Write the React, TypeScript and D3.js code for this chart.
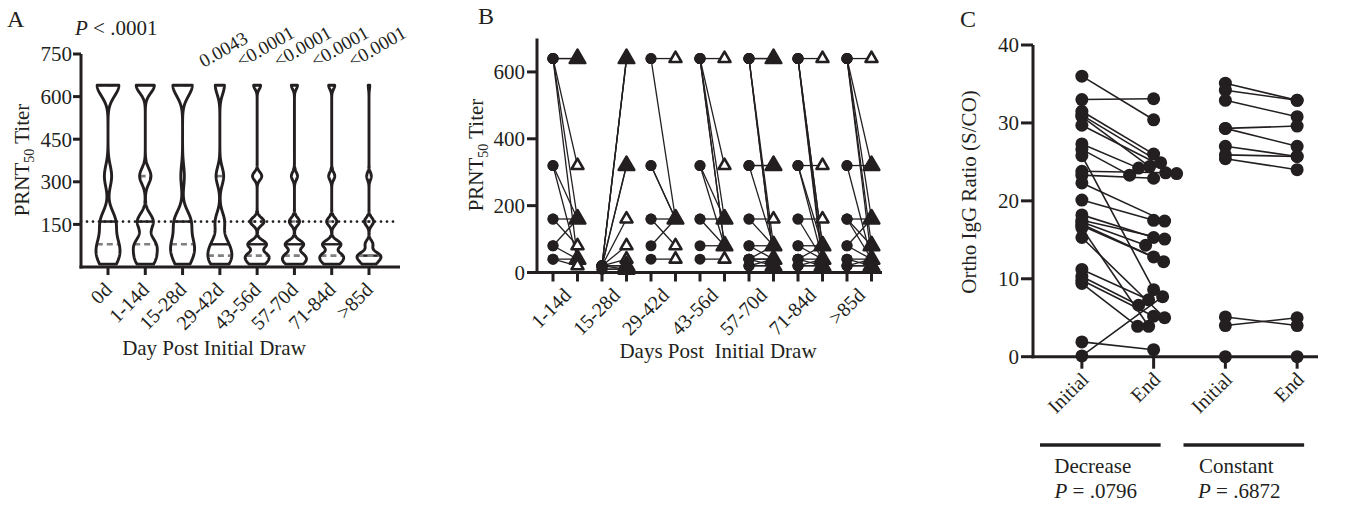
import React from 'react';
import * as d3 from 'd3';

const FONT = "'Liberation Serif', 'Times New Roman', serif";
const INK = '#231f20';
const GREY = '#808080';

// ---- panel A: PRNT50 titer per time window (counts of subjects per titer level)
const titerLevels = [10, 20, 40, 80, 160, 320, 640];
const violinGroups = ['0d', '1-14d', '15-28d', '29-42d', '43-56d', '57-70d', '71-84d', '>85d'];
const violinCounts = [
  [2, 3, 4, 8, 8, 4, 12],
  [2, 3, 4, 8, 7, 5, 8],
  [2, 2, 4, 9, 9, 2, 11],
  [3, 4, 7, 8, 6, 5, 6],
  [3, 4, 8, 8, 6, 4, 3],
  [3, 6, 8, 9, 5, 3, 3],
  [3, 5, 9, 9, 5, 3, 3],
  [4, 5, 13, 5, 6, 3, 1],
];
const violinPValues = ['', '', '', '0.0043', '<0.0001', '<0.0001', '<0.0001', '<0.0001'];
const yTicksA = [150, 300, 450, 600, 750];
const thresholdTiter = 160;
const smoothing = 0.35;

// ---- panel B: paired titers [initial, end]
const pairGroups = ['1-14d', '15-28d', '29-42d', '43-56d', '57-70d', '71-84d', '>85d'];
const pairs1to14 = [[640, 640], [640, 640], [640, 320], [640, 160], [640, 40], [320, 160], [320, 40], [160, 160], [160, 80], [80, 160], [80, 40], [40, 40], [40, 20]];
const pairs15to28 = [[20, 640], [20, 640], [20, 640], [20, 320], [20, 320], [20, 160], [20, 80], [20, 40], [20, 20], [20, 20], [10, 10], [10, 10], [20, 10]];
const pairs29to42 = [[640, 640], [640, 160], [320, 160], [320, 160], [160, 160], [160, 80], [80, 160], [40, 40]];
const pairs43to56 = [[640, 640], [640, 320], [640, 160], [640, 80], [640, 80], [320, 160], [320, 80], [160, 160], [160, 80], [80, 80], [40, 40]];
const pairs57to70 = [[640, 640], [640, 640], [640, 80], [640, 40], [640, 40], [320, 320], [320, 320], [320, 80], [160, 160], [160, 80], [80, 40], [80, 80], [40, 80], [40, 40], [40, 20], [20, 40], [20, 20], [20, 20], [40, 40]];
const pairs71to84 = [[640, 640], [640, 80], [640, 80], [640, 40], [640, 20], [320, 320], [320, 80], [320, 40], [160, 160], [160, 40], [80, 80], [80, 40], [40, 80], [40, 40], [40, 20], [20, 20], [20, 40], [20, 20]];
const pairsOver85 = [[640, 640], [640, 320], [640, 160], [640, 80], [640, 40], [320, 320], [320, 40], [160, 160], [160, 80], [160, 40], [80, 160], [80, 40], [40, 40], [40, 20], [20, 20], [20, 40], [20, 20]];
const pairSets = [pairs1to14, pairs15to28, pairs29to42, pairs43to56, pairs57to70, pairs71to84, pairsOver85];
const yTicksB = [0, 200, 400, 600];

// ---- panel C: Ortho IgG ratio, initial vs end
const ratioGroups = ['Decrease', 'Constant'];
const ratioPValues = ['.0796', '.6872'];
const timepoints = ['Initial', 'End'];
const decreaseInitial = [36.0, 33.0, 31.5, 31.0, 30.8, 29.7, 27.3, 26.6, 25.8, 23.8, 23.3, 22.3, 20.1, 18.2, 17.5, 17.3, 17.0, 16.8, 16.5, 15.3, 11.2, 10.3, 9.8, 9.4, 1.9, 0.1];
const decreaseEnd = [30.4, 33.1, 26.0, 24.9, 24.4, 23.5, 24.2, 23.3, 8.6, 23.6, 22.9, 17.4, 17.5, 15.3, 15.1, 14.3, 12.8, 12.2, 3.9, 5.0, 7.3, 6.6, 5.2, 3.9, 0.9, 7.7];
const constantInitial = [35.1, 34.2, 32.9, 29.3, 29.3, 27.0, 25.9, 25.4, 5.1, 4.0, 0];
const constantEnd = [32.9, 32.9, 30.8, 29.6, 27.0, 25.7, 25.7, 24.0, 4.0, 5.0, 0];
const ratioInitial = [decreaseInitial, constantInitial];
const ratioEnd = [decreaseEnd, constantEnd];
const spreadGroups = ['Decrease'];
const yTicksC = [0, 10, 20, 30, 40];

function violinStats(counts: number[]) {
  const values = titerLevels.flatMap((t, i) => d3.range(counts[i]).map(() => t)).sort(d3.ascending);
  const q1 = d3.quantileSorted(values, 0.25)!;
  const med = d3.quantileSorted(values, 0.5)!;
  const q3 = d3.quantileSorted(values, 0.75)!;
  const sd = d3.deviation(values)!;
  const h = smoothing * 0.9 * Math.min(sd, (q3 - q1) / 1.34) * Math.pow(values.length, -0.2);
  const dens = (v: number) => d3.sum(values, (x) => Math.exp(-0.5 * ((v - x) / h) ** 2));
  const lo = values[0];
  const hi = values[values.length - 1];
  const profile = d3.range(lo, hi, 2).concat([hi]).map((v) => [v, dens(v)]);
  const max = d3.max(profile, (d) => d[1])!;
  return { profile, max, q1, med, q3, dens };
}

// simple beeswarm: smallest sideways shift that keeps points apart
function swarm(ys: number[], minDist: number) {
  const order = d3.range(ys.length).sort((a, b) => ys[a] - ys[b]);
  const placed: { x: number; y: number }[] = [];
  const dx = ys.map(() => 0);
  for (const i of order) {
    let best = 0;
    for (let k = 0; k < 80; k++) {
      const cands = k === 0 ? [0] : [k, -k];
      const hit = cands.find((c) => placed.every((p) => Math.hypot(p.x - c, p.y - ys[i]) >= minDist));
      if (hit !== undefined) {
        best = hit;
        break;
      }
    }
    dx[i] = best;
    placed.push({ x: best, y: ys[i] });
  }
  return dx;
}

function PanelA() {
  const y = d3.scaleLinear().domain([0, 750]).range([267, 54]);
  const x = d3.scalePoint<string>().domain(violinGroups).range([108, 369]);
  const axisX = 81;
  const halfMax = 12;
  const stats = violinCounts.map(violinStats);
  return (
    <g>
      <text x={7} y={27} fontSize={24}>A</text>
      <text x={75} y={35} fontSize={21}>
        <tspan fontStyle="italic">P</tspan>{' < .0001'}
      </text>
      {stats.map((s, i) => {
        const cx = x(violinGroups[i])!;
        const w = d3.scaleLinear().domain([0, s.max]).range([0, halfMax]);
        const area = d3
          .area<number[]>()
          .y((d) => y(d[0]))
          .x0((d) => cx - w(d[1]))
          .x1((d) => cx + w(d[1]));
        const hw = (v: number) => w(s.dens(v));
        const d = area(s.profile)!;
        return (
          <g key={violinGroups[i]}>
            <path d={d} fill="white" />
            <line x1={cx - hw(s.med)} x2={cx + hw(s.med)} y1={y(s.med)} y2={y(s.med)} stroke={INK} strokeWidth={2.4} />
            {[s.q1, s.q3].map((q, k) => (
              <line key={k} x1={cx - hw(q)} x2={cx + hw(q)} y1={y(q)} y2={y(q)} stroke={GREY} strokeWidth={2.6} strokeDasharray="6,4" />
            ))}
            <path d={d} fill="none" stroke={INK} strokeWidth={2.9} strokeLinejoin="round" />
          </g>
        );
      })}
      <line x1={axisX} x2={396} y1={y(thresholdTiter)} y2={y(thresholdTiter)} stroke={INK} strokeWidth={2.8} strokeDasharray="0,6" strokeLinecap="round" />
      <line x1={axisX} x2={axisX} y1={y(750)} y2={y(0) + 1.5} stroke={INK} strokeWidth={3} />
      <line x1={axisX - 1.5} x2={400} y1={y(0)} y2={y(0)} stroke={INK} strokeWidth={3} />
      {yTicksA.map((t) => (
        <g key={t}>
          <line x1={axisX - 8} x2={axisX} y1={y(t)} y2={y(t)} stroke={INK} strokeWidth={3} />
          <text x={axisX - 9} y={y(t)} dy="0.35em" textAnchor="end" fontSize={21}>{t}</text>
        </g>
      ))}
      {violinGroups.map((g, i) => (
        <g key={g}>
          <line x1={x(g)} x2={x(g)} y1={y(0)} y2={y(0) + 8} stroke={INK} strokeWidth={3} />
          <text transform={`translate(${x(g)! + 5},${y(0) + 24}) rotate(-45)`} textAnchor="end" fontSize={20}>{g}</text>
          {violinPValues[i] && (
            <text transform={`translate(${x(g)! - 16},68) rotate(-30)`} fontSize={19}>{violinPValues[i]}</text>
          )}
        </g>
      ))}
      <text x={214} y={355} textAnchor="middle" fontSize={21}>Day Post Initial Draw</text>
      <text transform="translate(29,160) rotate(-90)" textAnchor="middle" fontSize={21}>
        PRNT<tspan fontSize={14} dy={5}>50</tspan><tspan dy={-5}> Titer</tspan>
      </text>
    </g>
  );
}

function PanelB() {
  const y = d3.scaleLinear().domain([0, 700]).range([272.5, 38.5]);
  const band = d3.scaleBand<string>().domain(pairGroups).range([540.75, 883.75]);
  const bw = band.bandwidth();
  const axisX = 537;
  const tri = d3.symbol().type(d3.symbolTriangle);
  return (
    <g>
      <text x={478} y={24} fontSize={24}>B</text>
      {pairSets.map((pairs, gi) => {
        const g = pairGroups[gi];
        const xi = band(g)! + bw * 0.25;
        const xe = band(g)! + bw * 0.75;
        const endCounts = d3.rollup(pairs, (v) => v.length, (d) => d[1]);
        return (
          <g key={g}>
            {pairs.map((p, k) => (
              <line key={k} x1={xi} x2={xe} y1={y(p[0])} y2={y(p[1])} stroke={INK} strokeWidth={1.3} />
            ))}
            {pairs.map((p, k) => (
              <circle key={k} cx={xi} cy={y(p[0])} r={5.5} fill={INK} />
            ))}
            {Array.from(endCounts).map(([v, n]) => (
              <path
                key={v}
                transform={`translate(${xe},${y(v)})`}
                d={tri.size(n > 1 ? 105 : 62)()!}
                fill={n > 1 ? INK : 'white'}
                stroke={INK}
                strokeWidth={2.6}
                strokeLinejoin="round"
              />
            ))}
          </g>
        );
      })}
      <line x1={axisX} x2={axisX} y1={y(700)} y2={y(0) + 1.5} stroke={INK} strokeWidth={3} />
      <line x1={axisX - 1.5} x2={882} y1={y(0)} y2={y(0)} stroke={INK} strokeWidth={3} />
      {yTicksB.map((t) => (
        <g key={t}>
          <line x1={axisX - 10} x2={axisX} y1={y(t)} y2={y(t)} stroke={INK} strokeWidth={3} />
          <text x={axisX - 12} y={y(t)} dy="0.35em" textAnchor="end" fontSize={21}>{t}</text>
        </g>
      ))}
      {pairGroups.map((g) => (
        <g key={g}>
          {[0.25, 0.75].map((f) => (
            <line key={f} x1={band(g)! + bw * f} x2={band(g)! + bw * f} y1={y(0)} y2={y(0) + 9} stroke={INK} strokeWidth={3} />
          ))}
          <text transform={`translate(${band(g)! + bw / 2 + 7},${y(0) + 24}) rotate(-45)`} textAnchor="end" fontSize={20}>{g}</text>
        </g>
      ))}
      <text x={718} y={358} textAnchor="middle" fontSize={21} style={{ whiteSpace: 'pre' }}>{'Days Post  Initial Draw'}</text>
      <text transform="translate(483,155) rotate(-90)" textAnchor="middle" fontSize={21}>
        PRNT<tspan fontSize={14} dy={5}>50</tspan><tspan dy={-5}> Titer</tspan>
      </text>
    </g>
  );
}

function PanelC() {
  const y = d3.scaleLinear().domain([0, 40]).range([356.7, 45]);
  const band = d3.scaleBand<string>().domain(ratioGroups).range([1046, 1333]);
  const bw = band.bandwidth();
  const axisX = 1033;
  return (
    <g>
      <text x={960} y={27} fontSize={24}>C</text>
      {ratioGroups.map((g, gi) => {
        const xi = band(g)! + bw * 0.25;
        const xe = band(g)! + bw * 0.75;
        const ini = ratioInitial[gi];
        const end = ratioEnd[gi];
        const off = spreadGroups.includes(g) ? swarm(end.map((v) => y(v)), 11) : end.map(() => 0);
        return (
          <g key={g}>
            {ini.map((v, k) => (
              <line key={k} x1={xi} x2={xe + off[k]} y1={y(v)} y2={y(end[k])} stroke={INK} strokeWidth={1.6} />
            ))}
            {ini.map((v, k) => (
              <circle key={k} cx={xi} cy={y(v)} r={6.5} fill={INK} />
            ))}
            {end.map((v, k) => (
              <circle key={k} cx={xe + off[k]} cy={y(v)} r={6.5} fill={INK} />
            ))}
          </g>
        );
      })}
      <line x1={axisX} x2={axisX} y1={y(40)} y2={y(0) + 1.5} stroke={INK} strokeWidth={3} />
      <line x1={axisX - 1.5} x2={1318} y1={y(0)} y2={y(0)} stroke={INK} strokeWidth={3} />
      {yTicksC.map((t) => (
        <g key={t}>
          <line x1={axisX - 12} x2={axisX} y1={y(t)} y2={y(t)} stroke={INK} strokeWidth={3} />
          <text x={axisX - 14} y={y(t)} dy="0.35em" textAnchor="end" fontSize={21}>{t}</text>
        </g>
      ))}
      {ratioGroups.map((g, gi) => (
        <g key={g}>
          {timepoints.map((tp, k) => {
            const cx = band(g)! + bw * (k === 0 ? 0.25 : 0.75);
            return (
              <g key={tp}>
                <line x1={cx} x2={cx} y1={y(0)} y2={y(0) + 12} stroke={INK} strokeWidth={3} />
                <text transform={`translate(${cx + 8},${y(0) + 24}) rotate(-45)`} textAnchor="end" fontSize={20}>{tp}</text>
              </g>
            );
          })}
          <line x1={band(g)! - 6} x2={band(g)! + bw * 0.75 + 7} y1={445} y2={445} stroke={INK} strokeWidth={3.5} />
          <text x={band(g)! + bw / 2 - 25} y={473} textAnchor="middle" fontSize={21}>{g}</text>
          <text x={band(g)! + bw / 2 - 22} y={498} textAnchor="middle" fontSize={21}>
            <tspan fontStyle="italic">P</tspan>{` = ${ratioPValues[gi]}`}
          </text>
        </g>
      ))}
      <text transform="translate(976,192) rotate(-90)" textAnchor="middle" fontSize={21}>Ortho IgG Ratio (S/CO)</text>
    </g>
  );
}

export default function App() {
  return (
    <svg
      width={1353}
      height={505}
      style={{ position: 'absolute', left: 0, top: 0, display: 'block' }}
      fontFamily={FONT}
      fill={INK}
    >
      <rect width={1353} height={505} fill="white" />
      <PanelA />
      <PanelB />
      <PanelC />
    </svg>
  );
}
